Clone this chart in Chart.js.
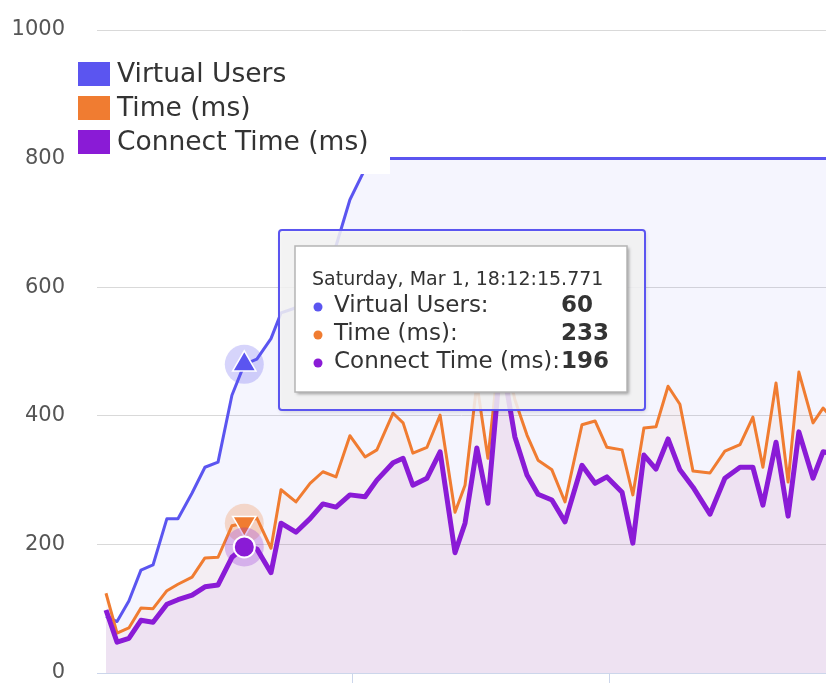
<!DOCTYPE html>
<html>
<head>
<meta charset="utf-8">
<script src="https://cdn.jsdelivr.net/npm/chart.js@4.4.1/dist/chart.umd.min.js"></script>
<style>
  html, body { margin: 0; padding: 0; background: #fff; }
</style>
</head>
<body>
<canvas id="chart" width="826" height="692"></canvas>
<script>
// sample times, seconds after 18:12:00 (Sat, Mar 1)
const times = [10.39, 10.82, 11.28, 11.75, 12.22, 12.76, 13.19, 13.74, 14.24, 14.75,
               15.29, 15.771, 16.26, 16.81, 17.20, 17.78, 18.33, 18.83, 19.34, 19.88,
               20.47, 20.93, 21.56, 21.95, 22.33, 22.88, 23.39, 23.97, 24.36, 24.82,
               25.25, 25.76, 26.30, 26.77, 27.20, 27.74, 28.25, 28.91, 29.42, 29.88,
               30.47, 30.89, 31.32, 31.79, 32.26, 32.72, 33.23, 33.89, 34.47, 35.06,
               35.56, 35.95, 36.46, 36.93, 37.35, 37.90, 38.29, 38.79];
const virtualUsers = [11, 10, 14, 20, 21, 30, 30, 35, 40, 41,
                      54, 60, 61, 65, 70, 71, 74, 78, 83, 92,
                      98, 100, 100, 100, 100, 100, 100, 100, 100, 100,
                      100, 100, 100, 100, 100, 100, 100, 100, 100, 100,
                      100, 100, 100, 100, 100, 100, 100, 100, 100, 100,
                      100, 100, 100, 100, 100, 100, 100, 100];
const timeMs = [124, 62, 70, 101, 100, 128, 138, 149, 179, 180,
                229, 233, 241, 194, 285, 266, 295, 313, 305, 369,
                336, 347, 404, 389, 342, 351, 401, 250, 292, 450,
                334, 520, 425, 370, 331, 316, 266, 386, 392, 351,
                347, 277, 381, 383, 446, 418, 314, 311, 345, 355,
                398, 320, 451, 297, 468, 389, 412, 390];
const connectMs = [98, 48, 54, 82, 79, 107, 114, 121, 134, 137,
                   180, 196, 193, 156, 233, 219, 240, 263, 258, 277,
                   274, 300, 327, 334, 292, 303, 344, 187, 233, 350,
                   264, 495, 367, 308, 278, 269, 235, 323, 295, 305,
                   281, 202, 339, 317, 364, 316, 289, 247, 303, 320,
                   320, 261, 359, 244, 375, 303, 344, 340];
const seriesNames = ['Virtual Users', 'Time (ms)', 'Connect Time (ms)'];
const yTicks = [0, 200, 400, 600, 800, 1000];
const xTicks = [20, 30];
const activeIndex = 11;

const colors = ['#5b55f0', '#f07c31', '#8a1bd6'];
const fills = ['rgba(92,85,240,0.06)', 'rgba(240,124,49,0.05)', 'rgba(138,27,214,0.06)'];
const halos = ['rgba(92,85,240,0.25)', 'rgba(240,124,49,0.25)', 'rgba(138,27,214,0.25)'];
const FONT = '"DejaVu Sans", Verdana, sans-serif';
Chart.defaults.font.family = FONT;

const pts = arr => times.map((t, i) => ({ x: t, y: arr[i] }));
const markerSize = size => (c => c.dataIndex === activeIndex ? size : 0);

// hover halo behind each highlighted marker
const haloPlugin = {
  id: 'halo',
  beforeDatasetDraw(chart, args) {
    const p = args.meta.data[activeIndex];
    if (!p) return;
    const ctx = chart.ctx;
    ctx.save();
    ctx.fillStyle = halos[args.index];
    ctx.beginPath();
    ctx.arc(p.x, p.y, 19.5, 0, Math.PI * 2);
    ctx.fill();
    ctx.restore();
  }
};

// floating legend box in the top-left corner
const legendPlugin = {
  id: 'boxLegend',
  afterDraw(chart) {
    const ctx = chart.ctx;
    ctx.save();
    ctx.fillStyle = '#fff';
    ctx.fillRect(70, 44, 320, 130);
    ctx.font = '26.5px ' + FONT;
    ctx.textBaseline = 'middle';
    chart.data.datasets.forEach((ds, i) => {
      const cy = 74 + i * 34;
      ctx.fillStyle = ds.borderColor;
      ctx.fillRect(78, cy - 12, 32, 24);
      ctx.fillStyle = '#333';
      ctx.fillText(ds.label, 117, cy + 1);
    });
    ctx.restore();
  }
};

// tooltip for the highlighted sample
const tipPlugin = {
  id: 'fixedTip',
  afterDraw(chart) {
    const ctx = chart.ctx;
    const p = chart.getDatasetMeta(0).data[activeIndex];
    const bx = Math.round(p.x) + 35, by = Math.round(p.y) - 134;
    ctx.save();
    ctx.shadowColor = 'rgba(0,0,0,0.18)';
    ctx.shadowOffsetX = 1; ctx.shadowOffsetY = 2; ctx.shadowBlur = 4;
    ctx.fillStyle = 'rgba(247,247,247,0.85)';
    ctx.beginPath();
    ctx.roundRect(bx, by, 366, 180, 3);
    ctx.fill();
    ctx.shadowColor = 'transparent';
    ctx.strokeStyle = colors[0];
    ctx.lineWidth = 2;
    ctx.stroke();

    ctx.shadowColor = 'rgba(0,0,0,0.35)';
    ctx.shadowOffsetX = 2; ctx.shadowOffsetY = 2; ctx.shadowBlur = 3;
    ctx.fillStyle = '#fff';
    ctx.fillRect(bx + 16, by + 16, 332, 146);
    ctx.shadowColor = 'transparent';
    ctx.strokeStyle = '#b5b5b5';
    ctx.lineWidth = 1.5;
    ctx.strokeRect(bx + 16, by + 16, 332, 146);

    ctx.fillStyle = '#333';
    ctx.textBaseline = 'middle';
    ctx.font = '19px ' + FONT;
    ctx.fillText('Saturday, Mar 1, 18:12:' + times[activeIndex].toFixed(3), bx + 33, by + 50);
    const vals = [virtualUsers, timeMs, connectMs];
    seriesNames.forEach((name, i) => {
      const cy = by + 76 + i * 28;
      ctx.fillStyle = colors[i];
      ctx.beginPath();
      ctx.arc(bx + 39, cy + 1, 4.5, 0, Math.PI * 2);
      ctx.fill();
      ctx.fillStyle = '#333';
      ctx.font = '23px ' + FONT;
      ctx.fillText(name + ':', bx + 55, cy);
      ctx.font = 'bold 23px ' + FONT;
      ctx.fillText(String(vals[i][activeIndex]), bx + 282, cy);
    });
    ctx.restore();
  }
};

new Chart(document.getElementById('chart'), {
  type: 'line',
  data: {
    datasets: [
      {
        label: seriesNames[0], data: pts(virtualUsers), yAxisID: 'y1', order: 3,
        borderColor: colors[0], backgroundColor: fills[0], fill: 'origin', borderWidth: 3,
        pointStyle: 'triangle', pointRadius: markerSize(13.5),
        pointBackgroundColor: colors[0], pointBorderColor: '#fff', pointBorderWidth: 1.5
      },
      {
        label: seriesNames[1], data: pts(timeMs), yAxisID: 'y', order: 2,
        borderColor: colors[1], backgroundColor: fills[1], fill: 'origin', borderWidth: 3,
        pointStyle: 'triangle', pointRotation: 180, pointRadius: markerSize(13.5),
        pointBackgroundColor: colors[1], pointBorderColor: '#fff', pointBorderWidth: 1.5
      },
      {
        label: seriesNames[2], data: pts(connectMs), yAxisID: 'y', order: 1,
        borderColor: colors[2], backgroundColor: fills[2], fill: 'origin', borderWidth: 5,
        pointStyle: 'circle', pointRadius: markerSize(10.5),
        pointBackgroundColor: colors[2], pointBorderColor: '#fff', pointBorderWidth: 2
      }
    ]
  },
  options: {
    responsive: false,
    animation: false,
    events: [],
    layout: { padding: { top: 30, bottom: 9, left: 0, right: 0 } },
    elements: { line: { tension: 0, borderJoinStyle: 'round' } },
    plugins: { legend: { display: false }, tooltip: { enabled: false } },
    scales: {
      x: {
        type: 'linear', min: 10.04, max: 38.405,
        afterBuildTicks: s => { s.ticks = xTicks.map(v => ({ value: v })); },
        afterFit: s => { s.height = 10; },
        ticks: { display: false },
        grid: { drawOnChartArea: false, drawTicks: true, tickLength: 10, color: '#ccd6eb' },
        border: { color: '#ccd6eb' }
      },
      y: {
        min: 0, max: 1000,
        afterBuildTicks: s => { s.ticks = yTicks.map(v => ({ value: v })); },
        afterFit: s => { s.width = 97; },
        ticks: { padding: 0, color: '#555', font: { size: 21 }, callback: v => String(v) },
        grid: { color: '#d9d9d9', drawTicks: true, tickLength: 32, tickColor: 'rgba(0,0,0,0)' },
        border: { display: false }
      },
      y1: { display: false, min: 0, max: 125 }
    }
  },
  plugins: [haloPlugin, legendPlugin, tipPlugin]
});
</script>
</body>
</html>
